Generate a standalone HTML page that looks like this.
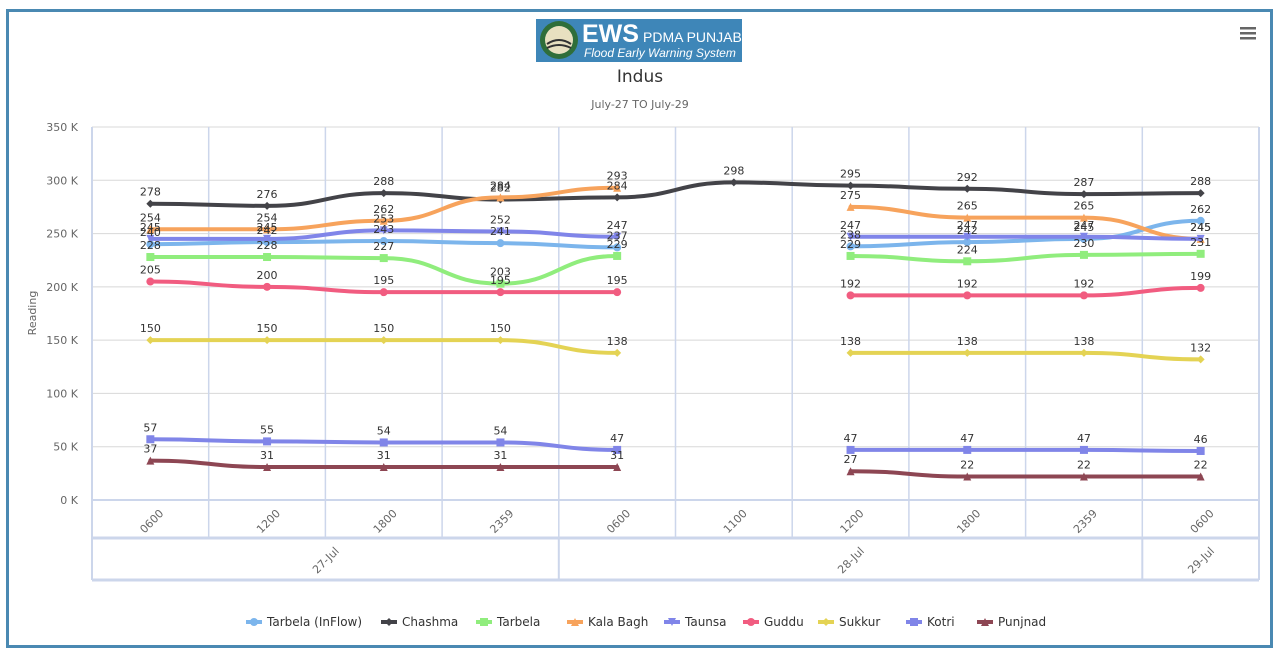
<!DOCTYPE html>
<html><head><meta charset="utf-8"><style>
body{margin:0;background:#fff;width:1280px;height:653px;overflow:hidden;font-family:"DejaVu Sans","Liberation Sans",sans-serif}
#frame{position:absolute;left:6px;top:9px;width:1261px;height:633px;border:3px solid #4a89b2}
</style></head><body>
<div id="frame"></div>
<svg id="s" width="1280" height="653" style="position:absolute;left:0;top:0" font-family="DejaVu Sans, Liberation Sans, sans-serif">
<rect x="536" y="19" width="206" height="43" fill="#3e86b8"/>
<circle cx="559" cy="40" r="19" fill="#2f6e3a"/><circle cx="559" cy="40" r="14" fill="#e8e0c0"/>
<path d="M547 44 q12 -8 24 0 M547 48 q12 -6 24 0" stroke="#333" stroke-width="2" fill="none"/>
<text x="582" y="42" font-family="Liberation Sans" font-weight="bold" font-size="25" fill="#fff">EWS</text>
<text x="643" y="42" font-family="Liberation Sans" font-size="14" fill="#fff">PDMA PUNJAB</text>
<text x="584" y="57" font-family="Liberation Sans" font-style="italic" font-size="12" fill="#fff">Flood Early Warning System</text>
<text x="640" y="82" text-anchor="middle" font-size="17" fill="#333">Indus</text>
<text x="640" y="108" text-anchor="middle" font-size="11" fill="#666">July-27 TO July-29</text>
<g fill="#666"><rect x="1240" y="27" width="16" height="2.5"/><rect x="1240" y="32" width="16" height="2.5"/><rect x="1240" y="37" width="16" height="2.5"/></g>
<text transform="translate(36,313) rotate(-90)" text-anchor="middle" font-size="11" fill="#666">Reading</text>
<g id="grid"></g><g id="series"></g><g id="labels" font-size="11" fill="#333" text-anchor="middle"></g>
<g id="legend" font-size="12" fill="#333"></g>
</svg>
<script>
var ns="http://www.w3.org/2000/svg";
function el(p,t,a,txt){var e=document.createElementNS(ns,t);for(var k in a)e.setAttribute(k,a[k]);if(txt!=null)e.textContent=txt;p.appendChild(e);return e;}
var G=document.getElementById('grid'),S=document.getElementById('series'),L=document.getElementById('labels'),LG=document.getElementById('legend');
var x0=92,x1=1259,y0=500,yt=127,cw=(x1-x0)/10;
function Y(v){return y0-v*(y0-yt)/350;}
function X(i){return x0+cw*(i+0.5);}
for(var v=0;v<=350;v+=50){el(G,'line',{x1:x0,x2:x1,y1:Y(v),y2:Y(v),stroke:'#d8d8d8'});el(G,'text',{x:78,y:Y(v)+4,'text-anchor':'end','font-size':'11',fill:'#666'},v+' K');}
for(var i=0;i<=10;i++){var x=x0+cw*i;el(G,'line',{x1:x,x2:x,y1:yt,y2:538,stroke:'#ccd6eb','stroke-width':i==0||i==10?2:1.5});}
el(G,'line',{x1:x0,x2:x1,y1:500,y2:500,stroke:'#ccd6eb','stroke-width':2});
el(G,'line',{x1:x0,x2:x1,y1:538,y2:538,stroke:'#ccd6eb','stroke-width':3});
el(G,'line',{x1:x0,x2:x1,y1:580,y2:580,stroke:'#ccd6eb','stroke-width':3});
[x0,x0+cw*4,x0+cw*9,x1].forEach(function(x){el(G,'line',{x1:x,x2:x,y1:538,y2:580,stroke:'#ccd6eb','stroke-width':2});});
el(G,'line',{x1:x0,x2:x0,y1:yt,y2:580,stroke:'#ccd6eb','stroke-width':2});
var cats=['0600','1200','1800','2359','0600','1100','1200','1800','2359','0600'];
cats.forEach(function(c,i){el(G,'text',{transform:'translate('+(X(i)+4)+',524) rotate(-45)','text-anchor':'middle','font-size':'11',fill:'#666'},c);});
[['27-Jul',x0+cw*2],['28-Jul',x0+cw*6.5],['29-Jul',x0+cw*9.5]].forEach(function(d){el(G,'text',{transform:'translate('+(d[1]+3)+',563) rotate(-45)','text-anchor':'middle','font-size':'11',fill:'#666'},d[0]);});
var N=null;
var data=[
['Tarbela (InFlow)','#7cb5ec','circle',[240,242,243,241,237,N,238,242,245,262]],
['Chashma','#434348','diamond',[278,276,288,282,284,298,295,292,287,288]],
['Tarbela','#90ed7d','square',[228,228,227,203,229,N,229,224,230,231]],
['Kala Bagh','#f7a35c','triangle',[254,254,262,284,293,N,275,265,265,245]],
['Taunsa','#8085e9','tdown',[245,245,253,252,247,N,247,247,247,245]],
['Guddu','#f15c80','circle',[205,200,195,195,195,N,192,192,192,199]],
['Sukkur','#e4d354','diamond',[150,150,150,150,138,N,138,138,138,132]],
['Kotri','#8085e8','square',[57,55,54,54,47,N,47,47,47,46]],
['Punjnad','#8d4653','triangle',[37,31,31,31,31,N,27,22,22,22]]];
function marker(p,sym,x,y,c,r){r=r||4;
 if(sym=='circle')el(p,'circle',{cx:x,cy:y,r:r,fill:c});
 else if(sym=='square')el(p,'rect',{x:x-r,y:y-r,width:2*r,height:2*r,fill:c});
 else if(sym=='diamond')el(p,'path',{d:'M'+x+' '+(y-r)+'L'+(x+r)+' '+y+'L'+x+' '+(y+r)+'L'+(x-r)+' '+y+'Z',fill:c});
 else if(sym=='triangle')el(p,'path',{d:'M'+x+' '+(y-r)+'L'+(x+r)+' '+(y+r)+'L'+(x-r)+' '+(y+r)+'Z',fill:c});
 else el(p,'path',{d:'M'+(x-r)+' '+(y-r)+'L'+(x+r)+' '+(y-r)+'L'+x+' '+(y+r)+'Z',fill:c});}
data.forEach(function(s){
 var v=s[3],segs=[],cur=[];
 v.forEach(function(d,i){if(d==null){if(cur.length)segs.push(cur);cur=[];}else cur.push([X(i),Y(d)]);});
 if(cur.length)segs.push(cur);
 segs.forEach(function(pts){var d='M'+pts[0][0]+' '+pts[0][1];
  for(var i=1;i<pts.length;i++){var a=pts[i-1],b=pts[i],m=(b[0]-a[0])/2;d+=' C'+(a[0]+m)+' '+a[1]+' '+(b[0]-m)+' '+b[1]+' '+b[0]+' '+b[1];}
  el(S,'path',{d:d,fill:'none',stroke:s[1],'stroke-width':4,'stroke-linecap':'round'});});
 v.forEach(function(d,i){if(d!=null){marker(S,s[2],X(i),Y(d),s[1]);el(L,'text',{x:X(i),y:Y(d)-8},d);}});
});
var lx=[246,381,476,567,664,743,818,906,977];
data.forEach(function(s,i){var x=lx[i];el(LG,'line',{x1:x,x2:x+16,y1:622,y2:622,stroke:s[1],'stroke-width':4});marker(LG,s[2],x+8,622,s[1],4);el(LG,'text',{x:x+21,y:626},s[0]);});
</script>
</body></html>
